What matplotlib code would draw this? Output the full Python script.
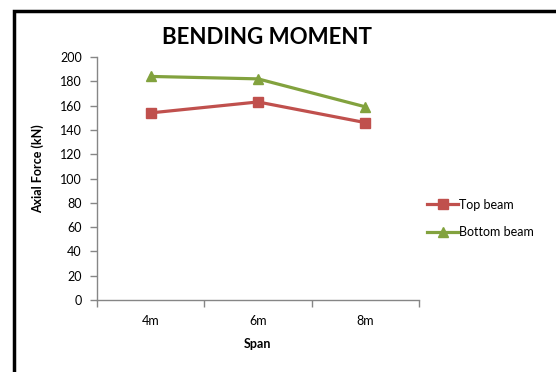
import matplotlib.pyplot as plt
from matplotlib.patches import Rectangle

# Span categories and axial forces (kN)
spans = ['4m', '6m', '8m']
top_beam = [154, 163, 146]
bottom_beam = [184, 182, 159]

plt.rcParams['font.family'] = ['Lato', 'DejaVu Sans']

fig = plt.figure(figsize=(5.56, 3.72), dpi=100)
ax = fig.add_axes([0.1745, 0.1935, 0.579, 0.6533])

x = range(len(spans))
ax.plot(x, top_beam, color='#C0504D', lw=2.3, marker='s', ms=6.5, label='Top beam')
ax.plot(x, bottom_beam, color='#82A23E', lw=2.3, marker='^', ms=7, label='Bottom beam')

ax.set_ylim(0, 200)
ax.set_yticks(range(0, 201, 20))
ax.set_xlim(-0.5, len(spans) - 0.5)
# category boundaries get the tick marks, labels sit in between
ax.set_xticks([i - 0.5 for i in range(len(spans) + 1)])
ax.set_xticklabels([])
ax.set_xticks(list(x), minor=True)
ax.set_xticklabels(spans, minor=True)
ax.tick_params(axis='x', which='minor', length=0, pad=11, labelsize=9)
ax.tick_params(axis='x', which='major', length=5, color='#868686', width=1)
ax.tick_params(axis='y', length=5, color='#868686', width=1, labelsize=9, pad=6)

for s in ['top', 'right']:
    ax.spines[s].set_visible(False)
for s in ['left', 'bottom']:
    ax.spines[s].set_color('#868686')
    ax.spines[s].set_linewidth(1)

fig.text(38 / 556, 1 - 169 / 372, 'Axial Force (kN)', fontsize=9,
         fontweight='bold', rotation=90, ha='center', va='center')
fig.text(258 / 556, 1 - 344 / 372, 'Span', fontsize=9, fontweight='bold',
         ha='center', va='center')
fig.text(267.5 / 556, 1 - 38 / 372, 'BENDING MOMENT', fontsize=16,
         fontweight='bold', ha='center', va='center')

ax.legend(loc='center left', bbox_to_anchor=(0.99, 0.335), frameon=False,
          fontsize=9, handlelength=2.5, handletextpad=0.05, labelspacing=1.25)

# chart border, running off the right and bottom edges
fig.patches.append(Rectangle((14 / 556, -0.1), 1.2, 1 - 11 / 372 + 0.1,
                             transform=fig.transFigure, fill=False,
                             edgecolor='black', lw=2.5))

fig.savefig('out.png', dpi=100)
